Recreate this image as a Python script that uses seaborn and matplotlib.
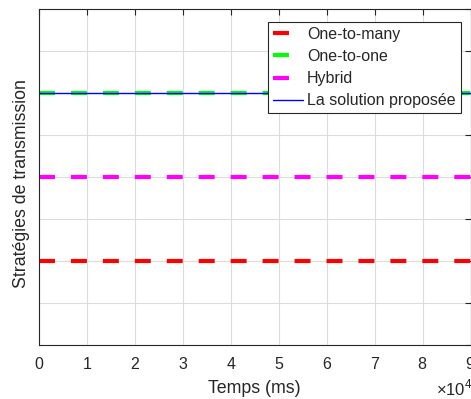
import numpy as np
import pandas as pd
import seaborn as sns
import matplotlib.pyplot as plt

# data (y values are category levels, no tick labels)
temps = [0, 90000]
one_to_many = [1, 1]
one_to_one = [3, 3]
hybrid = [2, 2]
proposee = [3, 3]
series_names = ['One-to-many', 'One-to-one', 'Hybrid', 'La solution proposée']

sns.set_style('whitegrid')
plt.rcParams['font.family'] = ['Liberation Sans', 'DejaVu Sans']
plt.rcParams['mathtext.fontset'] = 'custom'
plt.rcParams['mathtext.rm'] = 'Liberation Sans'
plt.rcParams['lines.scale_dashes'] = False

fig = plt.figure(figsize=(4.71, 3.99), dpi=100)
ax = fig.add_axes([39 / 471, 54 / 399, 432 / 471 - 0.001, 336 / 399])

df = pd.DataFrame({'Temps': temps * 4,
                   'Valeur': one_to_many + one_to_one + hybrid + proposee,
                   'Strategie': sum([[n] * len(temps) for n in series_names], [])})

styles = {
    'One-to-many': dict(color='#ff0000', lw=3.0, ls=(0, (11.5, 11.5))),
    'One-to-one': dict(color='#00ff00', lw=3.0, ls=(0, (11.5, 11.5))),
    'Hybrid': dict(color='#ff00ff', lw=3.0, ls=(0, (11.5, 11.5))),
    'La solution proposée': dict(color='#0000ff', lw=1.0, ls='-'),
}

for name in series_names:
    sub = df[df['Strategie'] == name]
    st = styles[name]
    sns.lineplot(data=sub, x='Temps', y='Valeur', ax=ax, color=st['color'],
                 linewidth=st['lw'], linestyle=st['ls'], label=name)

ax.set_xlim(0, 90000)
ax.set_ylim(0, 4)
ax.set_xticks(np.arange(0, 90001, 10000))
ax.set_yticks(np.arange(0, 4.01, 0.5))
ax.set_yticklabels([])
ax.ticklabel_format(style='sci', axis='x', scilimits=(0, 0), useMathText=True)
ax.xaxis.get_offset_text().set_visible(False)

ax.grid(True, color='#dcdcdc', linewidth=0.8)
ax.set_axisbelow(True)
for s in ax.spines.values():
    s.set_color('#262626')
    s.set_linewidth(0.8)
    s.set_visible(True)
ax.tick_params(axis='both', direction='in', length=4, width=0.8, color='#262626',
               top=True, right=True, labelsize=11.5, labelcolor='#262626', pad=8)

ax.set_xlabel('Temps (ms)', fontsize=12.8, color='#262626')
ax.xaxis.set_label_coords(0.498, -0.103)
ax.set_ylabel('Stratégies de transmission', fontsize=12.8, color='#262626')
ax.yaxis.set_label_coords(-0.02, 0.48)

# exponent of the x axis, placed like the MATLAB one (cut by the right edge)
fig.text(436 / 471, 0.5 / 399, r'$\times10^{4}$', fontsize=12, color='#262626',
         ha='left', va='bottom')

leg = ax.legend(loc='upper right', bbox_to_anchor=(0.977, 0.961), borderaxespad=0,
                fontsize=11.5, frameon=True, fancybox=False,
                handlelength=1.9, handletextpad=0.25, labelspacing=0.45, borderpad=0.3)
leg.get_frame().set_edgecolor('#262626')
leg.get_frame().set_linewidth(0.8)
leg.get_frame().set_alpha(1)

plt.savefig('out.png', dpi=100)
